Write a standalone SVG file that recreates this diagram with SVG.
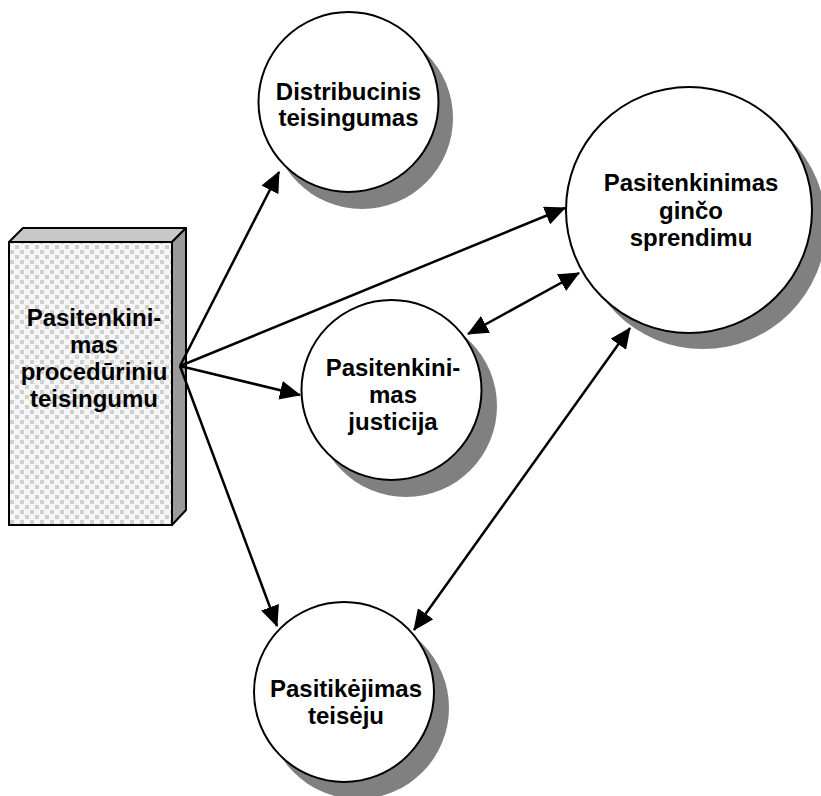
<svg xmlns="http://www.w3.org/2000/svg" width="821" height="796" viewBox="0 0 821 796">
<style>
.t{font-family:"Liberation Sans",Arial,sans-serif;font-weight:bold;font-size:24px;fill:#000;text-anchor:middle}
.c{fill:#fff;stroke:#000;stroke-width:2}
.sh{fill:#808080}
.ln{stroke:#000;stroke-width:2.5;fill:none}
.one{marker-end:url(#ah)}
.two{marker-start:url(#ah);marker-end:url(#ah)}
</style>
<defs>
<marker id="ah" viewBox="0 0 21 19" refX="20" refY="9.5" markerWidth="21" markerHeight="19" markerUnits="userSpaceOnUse" orient="auto-start-reverse">
<path d="M0,0 L21,9.5 L0,19 z" fill="#000"/>
</marker>
<pattern id="tex" width="10" height="10" patternUnits="userSpaceOnUse">
<rect width="10" height="10" fill="#f6f6f6"/>
<rect x="0" y="0" width="4" height="4" fill="#cfcfcf"/>
<rect x="5" y="5" width="4" height="4" fill="#cfcfcf"/>
</pattern>
</defs>
<rect width="821" height="796" fill="#fff"/>

<g id="box">
<polygon points="9,242 23,228 186,228 172,242" fill="#c8c8c8" stroke="#000" stroke-width="2" stroke-linejoin="round"/>
<polygon points="172,242 186,228 186,510 172,525" fill="#9a9a9a" stroke="#000" stroke-width="2" stroke-linejoin="round"/>
<rect x="9" y="242" width="163" height="283" fill="url(#tex)" stroke="#000" stroke-width="2"/>
<text class="t" x="94" y="326">Pasitenkini-</text>
<text class="t" x="94" y="353">mas</text>
<text class="t" x="94" y="380">procedūriniu</text>
<text class="t" x="94" y="407">teisingumu</text>
</g>

<g id="distribucinis">
<circle class="sh" cx="362" cy="118" r="91"/>
<circle class="c" cx="348.5" cy="102" r="90"/>
<text class="t" x="348.5" y="99.5">Distribucinis</text>
<text class="t" x="348.5" y="126">teisingumas</text>
</g>

<g id="gincio">
<circle class="sh" cx="703" cy="226" r="123"/>
<circle class="c" cx="689" cy="210" r="123"/>
<text class="t" x="691" y="191">Pasitenkinimas</text>
<text class="t" x="691" y="218.5">ginčo</text>
<text class="t" x="691" y="246">sprendimu</text>
</g>

<g id="justicija">
<circle class="sh" cx="406" cy="406" r="91"/>
<circle class="c" cx="391.5" cy="390" r="90"/>
<text class="t" x="393" y="376">Pasitenkini-</text>
<text class="t" x="393" y="403">mas</text>
<text class="t" x="393" y="430">justicija</text>
</g>

<g id="pasitikejimas">
<circle class="sh" cx="358" cy="708" r="91"/>
<circle class="c" cx="344" cy="692" r="90"/>
<text class="t" x="346" y="697">Pasitikėjimas</text>
<text class="t" x="346" y="724">teisėju</text>
</g>

<g id="connectors">
<line class="ln one" x1="180" y1="366" x2="279" y2="172"/>
<line class="ln one" x1="180" y1="366" x2="565" y2="208"/>
<line class="ln one" x1="180" y1="366" x2="300" y2="395"/>
<line class="ln one" x1="180" y1="366" x2="277" y2="626"/>
<line class="ln two" x1="468" y1="334" x2="579" y2="273"/>
<line class="ln two" x1="414" y1="630" x2="630" y2="328"/>
</g>
</svg>
